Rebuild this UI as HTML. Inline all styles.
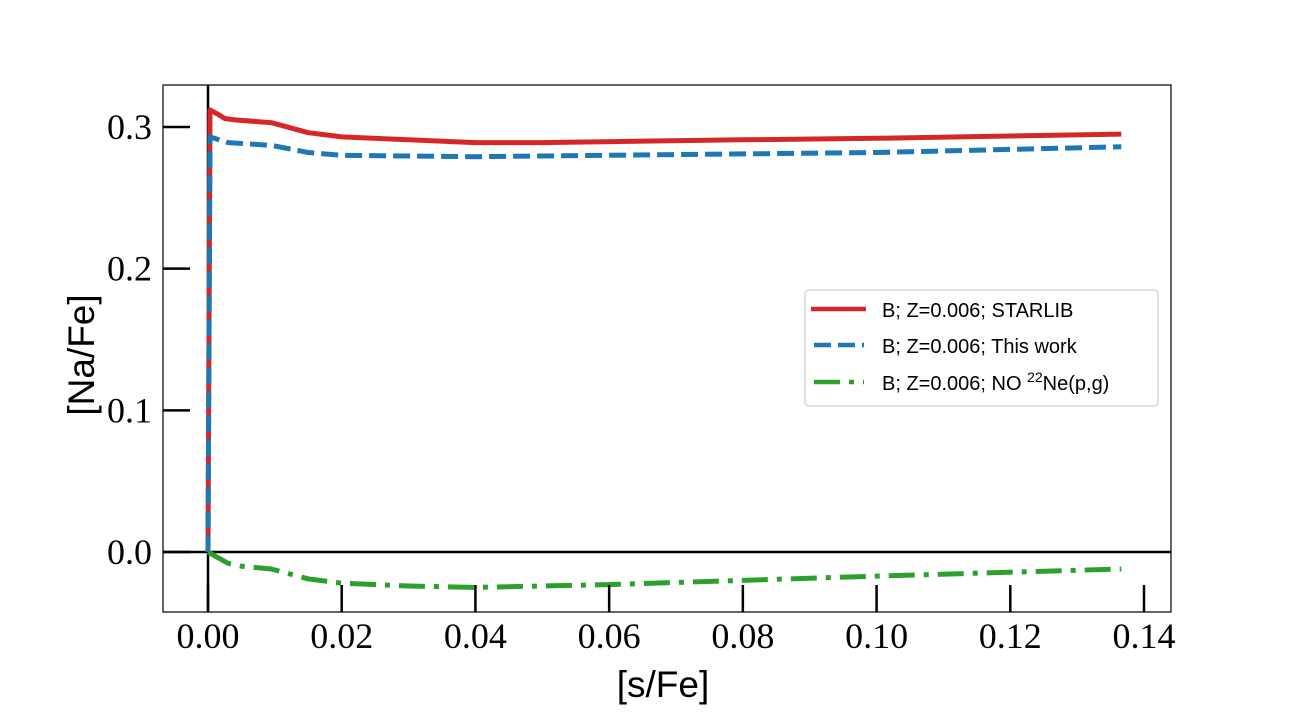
<!DOCTYPE html>
<html><head><meta charset="utf-8"><style>
body{margin:0;background:#fff;}
svg text{font-family:"Liberation Serif",serif;}
svg text.sans{font-family:"Liberation Sans",sans-serif;}
</style></head><body>
<svg id="chart" width="1301" height="710" xmlns="http://www.w3.org/2000/svg">
<rect width="1301" height="710" fill="#fff"/>
<g id="plot"></g>
</svg>
<script>
const xTicks=[0,0.02,0.04,0.06,0.08,0.1,0.12,0.14];
const xTickLabels=["0.00","0.02","0.04","0.06","0.08","0.10","0.12","0.14"];
const yTicks=[0,0.1,0.2,0.3];
const yTickLabels=["0.0","0.1","0.2","0.3"];
const redX=[0,0.0003,0.0015,0.0025,0.004,0.0095,0.015,0.02,0.03,0.04,0.05,0.08,0.1,0.1366];
const redY=[0,0.312,0.309,0.306,0.305,0.303,0.296,0.293,0.291,0.289,0.289,0.291,0.292,0.295];
const blueX=[0,0.0003,0.003,0.0095,0.015,0.02,0.04,0.06,0.1,0.1366];
const blueY=[0,0.293,0.289,0.287,0.282,0.280,0.279,0.280,0.282,0.286];
const greenX=[0,0.0015,0.003,0.005,0.0095,0.015,0.02,0.03,0.04,0.06,0.1,0.1366];
const greenY=[0,-0.004,-0.008,-0.010,-0.012,-0.019,-0.022,-0.024,-0.025,-0.023,-0.017,-0.012];

const NS="http://www.w3.org/2000/svg";
const g=document.getElementById('plot');
const L=163,R=1171,T=85,B=612;
const sx=v=>208+v*(1144-208)/0.14;
const sy=v=>552-v*(552-127)/0.3;
function mk(tag,attrs,parent){const e=document.createElementNS(NS,tag);for(const k in attrs)e.setAttribute(k,attrs[k]);(parent||g).appendChild(e);return e;}

let e=mk('line',{x1:L,x2:R,y1:sy(0),y2:sy(0),stroke:'#000','stroke-width':2.5});


e=mk('line',{x1:sx(0),x2:sx(0),y1:T,y2:B,stroke:'#000','stroke-width':2.5});



function series(xs,ys,color,dash,name){
  const d=xs.map((x,i)=>(i?'L':'M')+sx(x).toFixed(1)+','+sy(ys[i]).toFixed(1)).join('');
  const p=mk('path',{d:d,fill:'none',stroke:color,'stroke-width':5,'stroke-dasharray':dash,'stroke-linejoin':'round'});
  
  
}
series(redX,redY,'#d62728','none','series-starlib');
series(blueX,blueY,'#1f77b4','17,7','series-this-work');
series(greenX,greenY,'#2ca02c','26,9,5,9','series-no-22ne');

e=mk('rect',{x:L,y:T,width:R-L,height:B-T,fill:'none',stroke:'#000','stroke-width':1.2});



xTicks.forEach((v,i)=>{
  const t=mk('line',{x1:sx(v),x2:sx(v),y1:B,y2:B-27,stroke:'#000','stroke-width':2.5});
  
  
  const tx=mk('text',{x:sx(v),y:648,'text-anchor':'middle','font-size':36});
  tx.textContent=xTickLabels[i];
  
  
});
yTicks.forEach((v,i)=>{
  const t=mk('line',{x1:L,x2:L+27,y1:sy(v),y2:sy(v),stroke:'#000','stroke-width':2.5});
  
  
  const tx=mk('text',{x:L-11,y:sy(v)+12,'text-anchor':'end','font-size':36});
  tx.textContent=yTickLabels[i];
  
  
});
</script>
<svg style="position:absolute;left:0;top:0" width="1301" height="710" xmlns="http://www.w3.org/2000/svg">
<text class="sans" x="663" y="697" text-anchor="middle" font-size="37">[s/Fe]</text>
<text class="sans" transform="translate(94,355) rotate(-90)" text-anchor="middle" font-size="37">[Na/Fe]</text>
<g font-size="20">
<rect x="805" y="290" width="353" height="116" rx="4" fill="#fff" stroke="#ccc" stroke-width="1.2"/>
<line x1="811" y1="309" x2="866" y2="309" stroke="#d62728" stroke-width="4.5"/>
<text class="sans" x="882" y="317">B; Z=0.006; STARLIB</text>
<line x1="814" y1="345" x2="864" y2="345" stroke="#1f77b4" stroke-width="4.5" stroke-dasharray="17,7"/>
<text class="sans" x="882" y="353">B; Z=0.006; This work</text>
<line x1="814" y1="382" x2="864" y2="382" stroke="#2ca02c" stroke-width="4.5" stroke-dasharray="26,9,5,9"/>
<text class="sans" x="882" y="390">B; Z=0.006; NO <tspan font-size="14" dy="-8">22</tspan><tspan dy="8">Ne(p,g)</tspan></text>
</g>
</svg>
</body></html>
